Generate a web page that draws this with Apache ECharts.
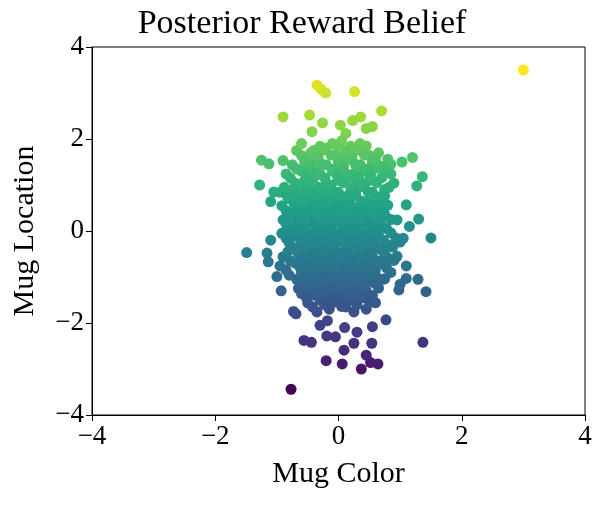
<!DOCTYPE html>
<html>
<head>
<meta charset="utf-8">
<script src="https://cdn.jsdelivr.net/npm/echarts@6/dist/echarts.min.js"></script>
<style>html,body{margin:0;padding:0;background:#fff}#chart{width:604px;height:506px}</style>
</head>
<body>
<div id="chart"></div>
<script>
// sparse points around the blob [color, location]
const outerPoints = [
  [3.0,3.5],[-0.35,3.17],[-0.28,3.08],[-0.21,3.0],[0.26,3.03],[0.70,2.61],
  [-0.90,2.48],[-0.47,2.52],[-0.26,2.35],[-0.43,2.16],[0.36,2.48],[0.23,2.4],
  [0.55,2.27],[0.45,2.23],[0.03,2.3],[0.12,2.12],[-1.25,1.54],[-1.13,1.46],
  [-0.9,1.53],[-0.68,1.75],[-1.28,1.0],[1.2,1.6],[1.03,1.5],[1.36,1.18],
  [1.27,0.98],[1.1,0.57],[1.3,0.26],[1.5,-0.15],[-1.49,-0.47],[-1.16,-0.48],
  [-1.14,-0.67],[-0.93,-1.3],[-1.0,-0.99],[1.42,-1.32],[1.37,-2.42],[0.98,-1.28],
  [1.29,-1.05],[1.1,-1.03],[-0.73,-1.75],[-0.69,-1.8],[-0.56,-2.38],[-0.44,-2.42],
  [-0.2,-2.82],[0.06,-2.89],[0.37,-3.0],[0.64,-2.89],[0.52,-2.86],[0.45,-2.7],
  [0.25,-2.44],[0.54,-2.44],[0.09,-2.59],[0.55,-2.08],[0.77,-1.93],[-0.77,-3.44],
  [-0.19,-2.28],[-0.18,-1.95],[0.1,-2.1],[-0.05,-2.3],[0.3,-2.2],[-0.3,-2.05],
  [-0.6,1.9],[0.85,1.45],[-1.05,0.85],[1.15,0.1],[-1.1,-0.2],[0.95,-0.55]
];
// dense core, one row per location level
const coreLevels = [1.9,1.7,1.5,1.3,1.1,0.9,0.7,0.5,0.3,0.1,-0.1,-0.3,-0.5,-0.7,-0.9,-1.1,-1.3,-1.5,-1.7];
const coreColors = [
  [-0.3,-0.1,0.05,0.2,0.35],
  [-0.6,-0.45,-0.25,-0.05,0.1,0.3,0.5,0.65],
  [-0.75,-0.55,-0.35,-0.2,0,0.15,0.35,0.55,0.8],
  [-0.85,-0.6,-0.45,-0.3,-0.1,0.05,0.25,0.4,0.6,0.85],
  [-0.7,-0.55,-0.4,-0.2,0,0.15,0.3,0.5,0.7,0.9],
  [-0.95,-0.75,-0.6,-0.45,-0.3,-0.15,0,0.2,0.35,0.55,0.75],
  [-1.1,-0.8,-0.65,-0.5,-0.35,-0.2,-0.05,0.1,0.25,0.45,0.6,0.75],
  [-0.85,-0.7,-0.55,-0.4,-0.25,-0.1,0.05,0.2,0.35,0.5,0.65,0.8],
  [-0.9,-0.75,-0.6,-0.45,-0.3,-0.15,0,0.15,0.3,0.45,0.6,0.75,0.95],
  [-0.8,-0.65,-0.5,-0.35,-0.2,-0.05,0.1,0.25,0.4,0.55,0.7],
  [-0.85,-0.7,-0.55,-0.4,-0.25,-0.1,0.05,0.2,0.35,0.5,0.65,0.85,1.05],
  [-0.75,-0.6,-0.45,-0.3,-0.15,0,0.15,0.3,0.45,0.6,0.8,1.0],
  [-0.9,-0.65,-0.5,-0.35,-0.2,-0.05,0.1,0.25,0.4,0.55,0.75],
  [-0.95,-0.7,-0.55,-0.4,-0.25,-0.1,0.05,0.2,0.35,0.5,0.7,0.9,1.1],
  [-0.8,-0.6,-0.45,-0.3,-0.15,0,0.15,0.3,0.45,0.6,0.85],
  [-0.55,-0.4,-0.25,-0.1,0.05,0.2,0.35,0.5,0.75,1.0],
  [-0.6,-0.45,-0.3,-0.15,0,0.15,0.3,0.45,0.65],
  [-0.5,-0.3,-0.15,0.05,0.2,0.4,0.6],
  [-0.35,-0.15,0.05,0.25,0.45]
];
// in-between rows of the core
const fillLevels = [1.8,1.6,1.4,1.2,1.0,0.8,0.6,0.4,0.2,0.0,-0.2,-0.4,-0.6,-0.8,-1.0,-1.2,-1.4,-1.6];
const fillColors = [
  [-0.4,-0.2,-0.02,0.12,0.28,0.45],
  [-0.52,-0.33,-0.12,0.07,0.22,0.42,0.6],
  [-0.68,-0.42,-0.27,-0.08,0.08,0.27,0.47,0.7],
  [-0.78,-0.52,-0.37,-0.22,-0.02,0.12,0.33,0.52,0.75],
  [-0.88,-0.63,-0.48,-0.33,-0.12,0.08,0.23,0.42,0.62,0.82],
  [-0.83,-0.68,-0.52,-0.38,-0.22,-0.08,0.12,0.28,0.48,0.68],
  [-0.92,-0.72,-0.58,-0.42,-0.28,-0.12,0.02,0.18,0.37,0.53,0.7],
  [-0.78,-0.62,-0.48,-0.32,-0.18,-0.02,0.12,0.28,0.42,0.58,0.72],
  [-0.85,-0.68,-0.53,-0.38,-0.22,-0.08,0.08,0.22,0.38,0.52,0.68,0.85],
  [-0.92,-0.72,-0.58,-0.42,-0.28,-0.12,0.03,0.18,0.33,0.48,0.62,0.78],
  [-0.8,-0.62,-0.48,-0.33,-0.18,-0.03,0.12,0.27,0.42,0.57,0.73,0.93],
  [-0.82,-0.68,-0.52,-0.38,-0.22,-0.08,0.08,0.23,0.38,0.52,0.68,0.88],
  [-0.78,-0.58,-0.43,-0.28,-0.12,0.03,0.18,0.33,0.48,0.63,0.82],
  [-0.85,-0.62,-0.48,-0.33,-0.18,-0.03,0.12,0.27,0.42,0.6,0.78],
  [-0.68,-0.52,-0.38,-0.22,-0.08,0.08,0.23,0.38,0.53,0.72],
  [-0.65,-0.48,-0.33,-0.18,-0.02,0.12,0.28,0.43,0.6],
  [-0.52,-0.37,-0.22,-0.07,0.08,0.23,0.38,0.55],
  [-0.42,-0.23,-0.08,0.12,0.3,0.5]
];

const points = outerPoints.slice();
coreLevels.forEach((y, i) => {
  coreColors[i].forEach((x, j) => points.push([x, y + ((j % 3) - 1) * 0.06]));
});
fillLevels.forEach((y, i) => {
  fillColors[i].forEach((x, j) => points.push([x, y + ((j % 3) - 1) * 0.05]));
});

const font = 'Liberation Serif';
const fmt = v => String(v).replace('-', '\u2212');
const chart = echarts.init(document.getElementById('chart'));
chart.setOption({
  animation: false,
  title: {
    text: 'Posterior Reward Belief', left: 'center', top: 2,
    textStyle: {fontFamily: font, fontSize: 34, fontWeight: 'normal', color: '#000'}
  },
  grid: {left: 92, right: 19, top: 47, bottom: 91},
  visualMap: {
    show: false, dimension: 1, min: -3.44, max: 3.5,
    inRange: {color: ['#440154','#482878','#3e4989','#31688e','#26828e','#1f9e89','#35b779','#6ece58','#b5de2b','#fde725']}
  },
  xAxis: {
    type: 'value', min: -4, max: 4, interval: 2,
    name: 'Mug Color', nameLocation: 'middle', nameGap: 44,
    nameTextStyle: {fontFamily: font, fontSize: 30, color: '#000'},
    axisLine: {onZero: false, lineStyle: {color: '#000'}},
    axisTick: {show: true, length: 6, lineStyle: {color: '#000'}},
    axisLabel: {fontFamily: font, fontSize: 27, color: '#000', formatter: fmt},
    splitLine: {show: false}
  },
  yAxis: {
    type: 'value', min: -4, max: 4, interval: 2,
    name: 'Mug Location', nameLocation: 'middle', nameGap: 52,
    nameTextStyle: {fontFamily: font, fontSize: 30, color: '#000'},
    axisLine: {show: true, onZero: false, lineStyle: {color: '#000'}},
    axisTick: {show: true, length: 6, lineStyle: {color: '#000'}},
    axisLabel: {fontFamily: font, fontSize: 27, color: '#000', formatter: fmt},
    splitLine: {show: false}
  },
  series: [{type: 'scatter', symbolSize: 11, data: points, itemStyle: {opacity: 1}}],
  graphic: [{type: 'rect', shape: {x: 92, y: 47, width: 493, height: 368}, style: {fill: 'none', stroke: '#000', lineWidth: 1}, silent: true}]
});
</script>
</body>
</html>
